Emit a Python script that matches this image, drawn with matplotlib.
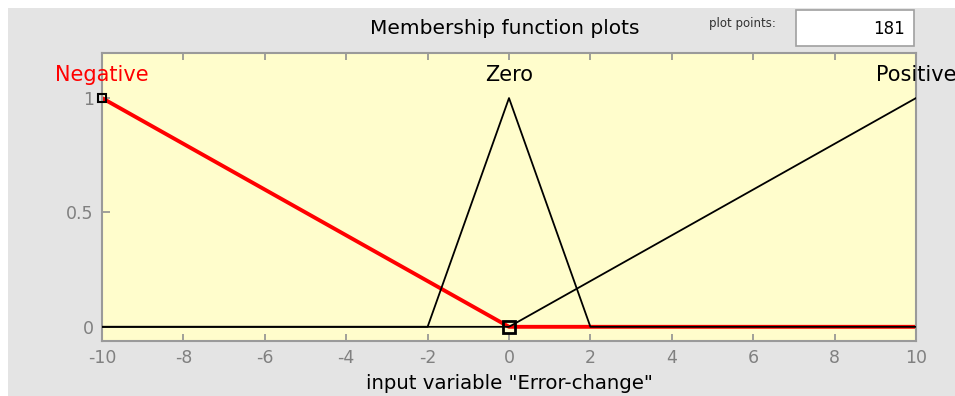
import matplotlib.pyplot as plt
from matplotlib.patches import Rectangle
import matplotlib
matplotlib.rcParams['font.family'] = "sans-serif"
matplotlib.rcParams['font.sans-serif'] = ["DejaVu Sans"]
matplotlib.rcParams['axes.unicode_minus'] = False

# membership function vertices (input variable "Error-change", range [-10 10])
mf_names = ["Negative", "Zero", "Positive"]
mf_peaks = [-10, 0, 10]
neg_x = [-10, 0, 10]
neg_y = [1, 0, 0]
zero_x = [-10, -2, 0, 2, 10]
zero_y = [0, 0, 1, 0, 0]
pos_x = [-10, 0, 10]
pos_y = [0, 0, 1]
xticks = [-10, -8, -6, -4, -2, 0, 2, 4, 6, 8, 10]
yticks = [0, 0.5, 1]
ytick_labels = ["0", "0.5", "1"]
plot_points = 181

W, H = 955, 396
fig = plt.figure(figsize=(W / 100, H / 100), dpi=100, facecolor="white")
# gray panel behind everything
fig.patches.append(Rectangle((8 / W, 0), 1, 1 - 8 / H, transform=fig.transFigure,
                             facecolor="#e4e4e4", edgecolor="none", zorder=-10))

ax = fig.add_axes([102 / W, (H - 341) / H, (916 - 102) / W, (341 - 53) / H])
ax.set_zorder(1)
ax.set_facecolor("#fffdcc")
ax.set_xlim(-10, 10)
ax.set_ylim(-0.062, 1.197)

# selected MF in red, the rest in black
ax.plot(neg_x, neg_y, color="red", lw=2.8, zorder=2)
ax.plot(zero_x, zero_y, color="black", lw=1.3, zorder=3)
ax.plot(pos_x, pos_y, color="black", lw=1.3, zorder=3)
ax.plot(neg_x[0], neg_y[0], "s", ms=6, mfc="none", mec="black", mew=1.5,
        clip_on=False, zorder=4)
ax.plot(neg_x[1], neg_y[1], "s", ms=8.5, mfc="none", mec="black", mew=2,
        clip_on=False, zorder=4)

label_colors = ["red", "black", "black"]
for name, px, c in zip(mf_names, mf_peaks, label_colors):
    ax.text(px, 1.1, name, color=c, fontsize=15, ha="center", va="center",
            clip_on=False)

ax.set_xticks(xticks)
ax.set_xticklabels([str(t) for t in xticks])
ax.set_yticks(yticks)
ax.set_yticklabels(ytick_labels)
ax.tick_params(direction="in", length=5, width=1.2, color="#909090",
               labelcolor="#808080", labelsize=12.5, top=True, pad=6)
ax.tick_params(axis="y", right=False, length=6)
for s in ax.spines.values():
    s.set_color("#9a9a9a")
    s.set_linewidth(1.5)
ax.set_xlabel('input variable "Error-change"', fontsize=14.2, labelpad=5)

fig.text(505 / W, 1 - 28 / H, "Membership function plots", fontsize=14.5,
         ha="center", va="center")
fig.text(742 / W, 1 - 24 / H, "plot points:", fontsize=8.5, ha="center",
         va="center", color="#303030")
fig.patches.append(Rectangle((796 / W, 1 - 46 / H), 118 / W, 36 / H,
                             transform=fig.transFigure, facecolor="white",
                             edgecolor="#a0a0a0", lw=1.2, zorder=1))
fig.text(905 / W, 1 - 29 / H, str(plot_points), fontsize=12, ha="right",
         va="center", zorder=2)

fig.savefig("out.png", dpi=100, facecolor=fig.get_facecolor())
